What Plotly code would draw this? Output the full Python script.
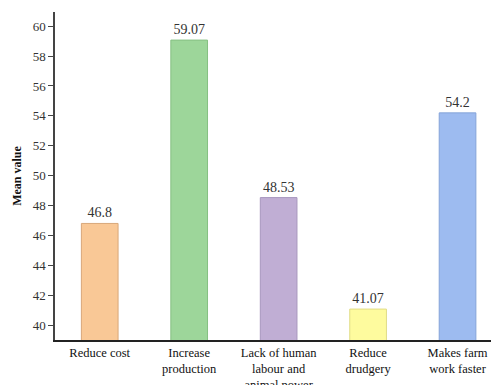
import plotly.graph_objects as go

categories = [
    "Reduce cost",
    "Increase<br>production",
    "Lack of human<br>labour and<br>animal power",
    "Reduce<br>drudgery",
    "Makes farm<br>work faster",
]
mean_values = [46.8, 59.07, 48.53, 41.07, 54.2]
value_labels = ["46.8", "59.07", "48.53", "41.07", "54.2"]
bar_colors = ["#F9C896", "#9DD69A", "#C0AED4", "#FEFB9E", "#9DBBF0"]
edge_colors = ["#D8A77A", "#86C083", "#A897BE", "#E0DC86", "#86A4D8"]
y_ticks = [40, 42, 44, 46, 48, 50, 52, 54, 56, 58, 60]

serif = "Liberation Serif, Times New Roman, serif"

fig = go.Figure(
    go.Bar(
        x=list(range(len(categories))),
        y=mean_values,
        base=0,
        width=0.41,
        marker=dict(color=bar_colors, line=dict(color=edge_colors, width=1)),
        text=value_labels,
        textposition="outside",
        textfont=dict(family=serif, size=14, color="#333333"),
        cliponaxis=False,
    )
)

fig.update_layout(
    width=491,
    height=385,
    margin=dict(l=55, r=0, t=12, b=45, autoexpand=False),
    paper_bgcolor="white",
    plot_bgcolor="white",
    showlegend=False,
    font=dict(family=serif, color="#222222"),
    xaxis=dict(
        range=[-0.5, 4.374],
        tickvals=list(range(len(categories))),
        ticktext=categories,
        tickfont=dict(family=serif, size=12.5, color="#111111"),
        showline=True,
        linecolor="#222222",
        linewidth=1.5,
        ticks="",
        showgrid=False,
        zeroline=False,
        automargin=False,
    ),
    yaxis=dict(
        range=[39, 60.95],
        tickvals=y_ticks,
        tickfont=dict(family=serif, size=13, color="#333333"),
        showline=True,
        linecolor="#444444",
        linewidth=1.5,
        ticks="outside",
        ticklen=5,
        tickcolor="#444444",
        showgrid=False,
        zeroline=False,
        automargin=False,
        title=dict(
            text="<b>Mean value</b>",
            font=dict(family=serif, size=12, color="#111111"),
            standoff=8,
        ),
    ),
)

fig.write_html("out.html")
